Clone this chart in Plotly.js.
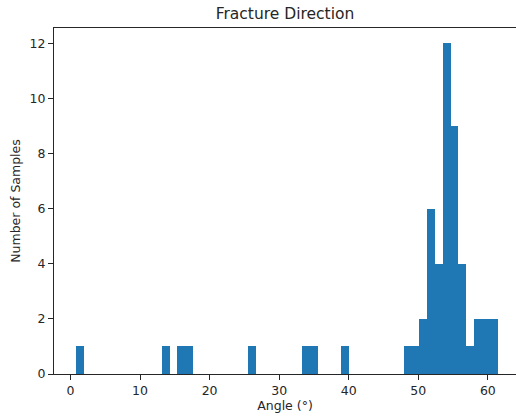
<!DOCTYPE html>
<html>
<head>
<meta charset="utf-8">
<script src="https://cdn.plot.ly/plotly-3.0.1.min.js"></script>
<style>html,body{margin:0;padding:0;background:#fff;}#chart{width:516px;height:416px;}</style>
</head>
<body>
<div id="chart"></div>
<script>
// Histogram bins (left edges) and counts
const binLeft = [0.78, 13.13, 15.37, 16.50, 25.48, 33.33, 34.46, 38.95,
                 47.93, 49.05, 50.17, 51.29, 52.42, 53.54, 54.66, 55.78, 56.91, 58.03, 59.15, 60.27];
const counts  = [1, 1, 1, 1, 1, 1, 1, 1,
                 1, 1, 2, 6, 4, 12, 9, 4, 1, 2, 2, 2];
const binWidth = 1.1226;
const xTicks = [0, 10, 20, 30, 40, 50, 60];
const yTicks = [0, 2, 4, 6, 8, 10, 12];
const titleText = "Fracture Direction";
const xTitle = "Angle (°)";
const yTitle = "Number of Samples";

const trace = {
  type: 'bar',
  x: binLeft,
  y: counts,
  width: binLeft.map(() => binWidth),
  offset: 0,
  marker: {color: '#1f77b4', line: {width: 0}},
  hoverinfo: 'x+y'
};

const axFont = {family: 'DejaVu Sans, sans-serif', size: 12.5, color: '#262626'};
const layout = {
  width: 516, height: 416,
  margin: {l: 54, r: 0, t: 28, b: 42, pad: 0},
  paper_bgcolor: '#fff', plot_bgcolor: '#fff',
  bargap: 0,
  showlegend: false,
  font: {family: 'DejaVu Sans, sans-serif', color: '#262626'},
  title: {text: titleText, font: {family: 'DejaVu Sans, sans-serif', size: 15.5, color: '#262626'},
          x: 285/516, xref: 'container', xanchor: 'center', y: 1 - 14/416, yref: 'container', yanchor: 'middle'},
  xaxis: {
    range: [-2.37, 64.05],
    tickvals: xTicks, ticktext: xTicks.map(String),
    ticks: 'outside', ticklen: 5, tickwidth: 1, tickcolor: '#262626',
    showline: true, linecolor: '#262626', linewidth: 1, mirror: true,
    showgrid: false, zeroline: false,
    automargin: false,
    tickfont: axFont,
    title: {text: xTitle, font: axFont, standoff: 4}
  },
  yaxis: {
    range: [0, 12.56],
    tickvals: yTicks, ticktext: yTicks.map(String),
    ticks: 'outside', ticklen: 5, tickwidth: 1, tickcolor: '#262626',
    showline: true, linecolor: '#262626', linewidth: 1, mirror: false,
    showgrid: false, zeroline: false,
    automargin: false,
    tickfont: axFont,
    title: {text: yTitle, font: axFont, standoff: 6}
  }
};

Plotly.newPlot('chart', [trace], layout, {displayModeBar: false, staticPlot: true});
</script>
</body>
</html>
